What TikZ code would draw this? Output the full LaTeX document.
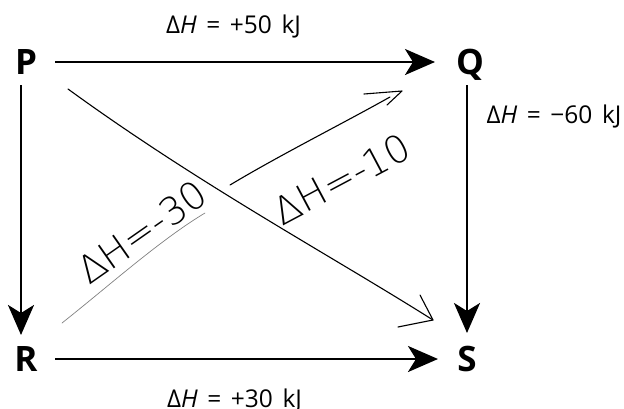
\documentclass[tikz,border=0pt]{standalone}
\usepackage{fontspec}
\setmainfont{Open Sans}
\newfontfamily\eqfont{Open Sans}[WordSpace=1.5]
\newfontfamily\handfont{DejaVuSans-ExtraLight}[Extension=.ttf]
\usetikzlibrary{arrows.meta}
\begin{document}
\begin{tikzpicture}[x=1pt,y=-1pt,
  lbl/.style={font=\fontsize{35}{35}\selectfont\bfseries, inner sep=0pt, text height=25pt, text depth=0pt},
  eq/.style={font=\fontsize{24.5}{24.5}\selectfont\eqfont, inner sep=0pt, anchor=base},
  arr/.style={line width=2.6pt, -{Stealth[length=30pt, width=26pt, inset=8pt]}},
  hand/.style={line width=1.1pt, line cap=round, line join=round},
  faint/.style={line width=0.7pt, gray, line cap=round},
  handtxt/.style={font=\fontsize{38}{38}\selectfont\handfont, inner sep=0pt}]
\useasboundingbox (0,0) rectangle (624,408);
\node[lbl] (P) at (26,62) {P};
\node[lbl] (Q) at (470,62) {Q};
\node[lbl] (R) at (26,359) {R};
\node[lbl] (S) at (467,359) {S};
% main arrows
\draw[arr, shorten <=29pt, shorten >=35pt] (P.center) -- (Q.center);
\draw[arr, shorten <=29pt, shorten >=29pt] (R.center) -- (S.center);
\draw[arr, shorten <=23pt, shorten >=24pt] ([xshift=-5pt]P.center) -- ([xshift=-5pt]R.center);
\draw[arr, shorten <=23pt, shorten >=26pt] ([xshift=-3pt]Q.center) -- (S.center);
% labels
\node[eq] (l1) at (233.5,33) {Δ\textit{H} = +50 kJ};
\node[eq] (l2) at (554,123) {Δ\textit{H} = −60 kJ};
\node[eq] (l3) at (234.5,407) {Δ\textit{H} = +30 kJ};
% handwritten annotations
\coordinate (a1) at (68,89);
\coordinate (a2) at (433,320);
\draw[hand] (a1) .. controls (200,185) and (330,255) .. (a2);
\draw[hand] (420,295) -- (a2) -- (398,327);
\coordinate (b1) at (62,323);
\coordinate (b2) at (205,213);
\draw[faint] (b1) .. controls (110,285) and (160,240) .. (b2);
\coordinate (b3) at (230,185);
\coordinate (b4) at (390,97);
\draw[hand] (b3) .. controls (280,155) and (340,125) .. (b4);
\draw[hand] (364,94) -- (402,91) -- (387,105);
\node[handtxt, rotate=35] (h1) at (142,232) {ΔH=-30};
\node[handtxt, rotate=28] (h2) at (342,179) {ΔH=-10};
\end{tikzpicture}
\end{document}
